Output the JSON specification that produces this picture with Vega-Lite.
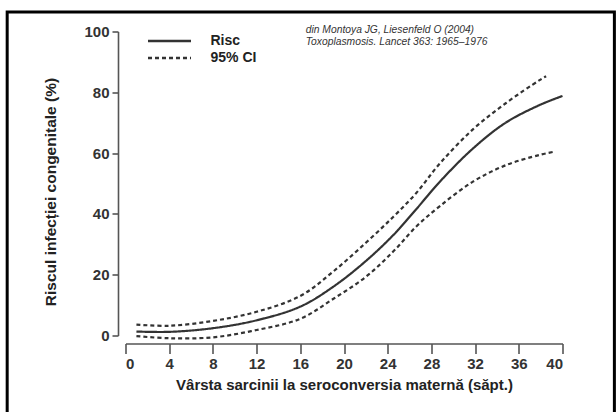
{
  "$schema": "https://vega.github.io/schema/vega-lite/v6.json",
  "width": 437,
  "height": 304,
  "autosize": "none",
  "padding": {"left": 125.5, "top": 31.5, "right": 53.5, "bottom": 76.5},
  "background": "white",
  "config": {
    "view": {"stroke": null},
    "font": "Liberation Sans",
    "axis": {"grid": false, "domainColor": "#555", "tickColor": "#555", "domainWidth": 1.6, "tickWidth": 1.6, "labelColor": "#333", "labelFont": "Liberation Sans", "labelFontWeight": "bold", "labelFontSize": 15, "titleFont": "Liberation Sans", "titleFontWeight": "bold", "titleFontSize": 15, "titleColor": "#222"}
  },
  "layer": [
    {
      "data": {"values": [{}]},
      "mark": {"type": "rect", "fill": null, "stroke": "black", "strokeWidth": 3},
      "encoding": {
        "x": {"datum": -10.83, "type": "quantitative", "scale": {"domain": [0, 40]}},
        "x2": {"datum": 44.75},
        "y": {"datum": 106.4, "type": "quantitative", "scale": {"domain": [0, 100]}},
        "y2": {"datum": -28}
      }
    },
    {
      "data": {"values": [
        {"week": 1, "pct": 1.3, "series": "Risc", "kind": "Risc"},
        {"week": 4, "pct": 1.2, "series": "Risc", "kind": "Risc"},
        {"week": 8, "pct": 2.4, "series": "Risc", "kind": "Risc"},
        {"week": 12, "pct": 5.0, "series": "Risc", "kind": "Risc"},
        {"week": 16, "pct": 9.5, "series": "Risc", "kind": "Risc"},
        {"week": 19, "pct": 16.0, "series": "Risc", "kind": "Risc"},
        {"week": 22, "pct": 24.5, "series": "Risc", "kind": "Risc"},
        {"week": 24.5, "pct": 33.0, "series": "Risc", "kind": "Risc"},
        {"week": 26.6, "pct": 41.5, "series": "Risc", "kind": "Risc"},
        {"week": 28.75, "pct": 50.5, "series": "Risc", "kind": "Risc"},
        {"week": 31.8, "pct": 61.5, "series": "Risc", "kind": "Risc"},
        {"week": 34.8, "pct": 70.0, "series": "Risc", "kind": "Risc"},
        {"week": 37.9, "pct": 75.8, "series": "Risc", "kind": "Risc"},
        {"week": 40, "pct": 78.8, "series": "Risc", "kind": "Risc"},
        {"week": 1, "pct": 3.6, "series": "upper", "kind": "95% CI"},
        {"week": 4, "pct": 3.2, "series": "upper", "kind": "95% CI"},
        {"week": 8, "pct": 4.8, "series": "upper", "kind": "95% CI"},
        {"week": 12, "pct": 7.8, "series": "upper", "kind": "95% CI"},
        {"week": 16, "pct": 13.0, "series": "upper", "kind": "95% CI"},
        {"week": 19, "pct": 21.0, "series": "upper", "kind": "95% CI"},
        {"week": 22, "pct": 30.5, "series": "upper", "kind": "95% CI"},
        {"week": 24.5, "pct": 39.0, "series": "upper", "kind": "95% CI"},
        {"week": 26.6, "pct": 46.8, "series": "upper", "kind": "95% CI"},
        {"week": 28.75, "pct": 56.5, "series": "upper", "kind": "95% CI"},
        {"week": 31.8, "pct": 67.8, "series": "upper", "kind": "95% CI"},
        {"week": 34.8, "pct": 76.4, "series": "upper", "kind": "95% CI"},
        {"week": 37.9, "pct": 84.0, "series": "upper", "kind": "95% CI"},
        {"week": 38.5, "pct": 85.3, "series": "upper", "kind": "95% CI"},
        {"week": 1, "pct": -0.2, "series": "lower", "kind": "95% CI"},
        {"week": 4, "pct": -0.9, "series": "lower", "kind": "95% CI"},
        {"week": 8, "pct": -0.6, "series": "lower", "kind": "95% CI"},
        {"week": 12, "pct": 1.8, "series": "lower", "kind": "95% CI"},
        {"week": 16, "pct": 5.5, "series": "lower", "kind": "95% CI"},
        {"week": 19, "pct": 12.0, "series": "lower", "kind": "95% CI"},
        {"week": 22, "pct": 19.3, "series": "lower", "kind": "95% CI"},
        {"week": 24.5, "pct": 27.6, "series": "lower", "kind": "95% CI"},
        {"week": 26.6, "pct": 35.8, "series": "lower", "kind": "95% CI"},
        {"week": 28.75, "pct": 42.5, "series": "lower", "kind": "95% CI"},
        {"week": 31.8, "pct": 50.6, "series": "lower", "kind": "95% CI"},
        {"week": 34.8, "pct": 56.0, "series": "lower", "kind": "95% CI"},
        {"week": 37.9, "pct": 59.4, "series": "lower", "kind": "95% CI"},
        {"week": 39.3, "pct": 60.5, "series": "lower", "kind": "95% CI"}
      ]},
      "mark": {"type": "line", "interpolate": "catmull-rom", "color": "#333", "strokeWidth": 2.2},
      "encoding": {
        "x": {"field": "week", "type": "quantitative", "scale": {"domain": [0, 40]},
          "axis": {"values": [0,4,8,12,16,20,24,28,32,36,40], "offset": 8, "tickSize": 10, "labelPadding": 3, "titlePadding": 6,
            "title": "Vârsta sarcinii la seroconversia maternă (săpt.)"}},
        "y": {"field": "pct", "type": "quantitative", "scale": {"domain": [0, 100]},
          "axis": {"values": [0,20,40,60,80,100], "offset": 7.5, "tickSize": 6, "labelPadding": 3, "titlePadding": 25, "titleFontSize": 15.5, "titleY": 160,
            "title": "Riscul infecției congenitale (%)"}},
        "detail": {"field": "series"},
        "strokeDash": {"field": "kind", "type": "nominal",
          "scale": {"domain": ["Risc", "95% CI"], "range": [[1, 0], [4, 3]]},
          "legend": {"title": null, "orient": "none", "legendX": 21, "legendY": 1, "symbolType": "stroke", "symbolSize": 1849, "symbolStrokeWidth": 2.5, "symbolStrokeColor": "#333", "labelFontSize": 14, "labelFontWeight": "bold", "labelColor": "#222", "labelOffset": 18, "rowPadding": 0, "clipHeight": 17}}
      }
    },
    {
      "data": {"values": [{}]},
      "mark": {"type": "text", "align": "left", "baseline": "middle", "fontStyle": "italic", "fontSize": 10.3, "color": "#333", "lineHeight": 12.5, "font": "Liberation Sans"},
      "encoding": {
        "x": {"datum": 16.5, "type": "quantitative"},
        "y": {"datum": 100.5, "type": "quantitative"},
        "text": {"value": ["din Montoya JG, Liesenfeld O (2004)", "Toxoplasmosis. Lancet 363: 1965–1976"]}
      }
    }
  ]
}
